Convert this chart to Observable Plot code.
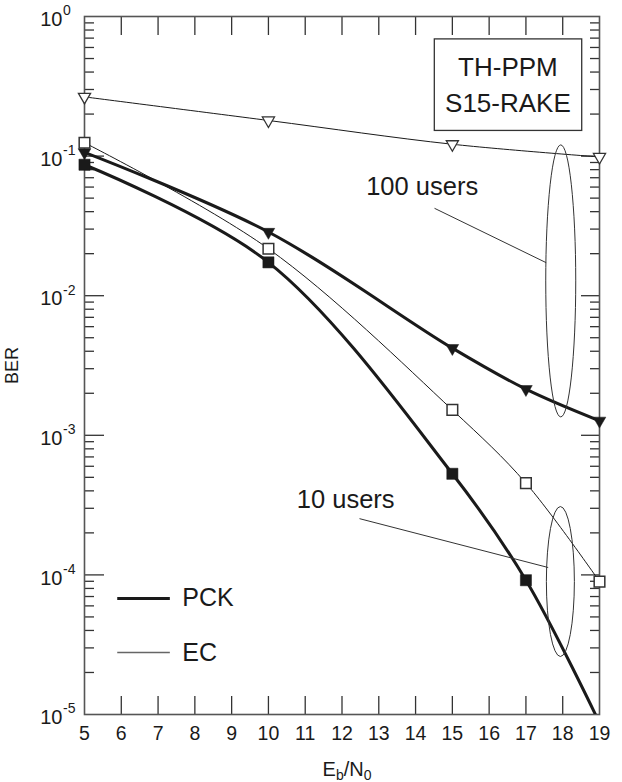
<!DOCTYPE html>
<html><head><meta charset="utf-8">
<script src="https://cdn.jsdelivr.net/npm/d3@7"></script>
<script src="https://cdn.jsdelivr.net/npm/@observablehq/plot@0.6"></script>
<style>body{margin:0;background:#fff}</style>
</head><body><div id="chart"></div>
<script>
// ---- data (Eb/N0 in dB, BER) ----
const snrEC100 = [5, 10, 15, 19];
const berEC100 = [0.2656, 0.180, 0.1216, 0.0986];
const snrPCK100 = [5, 10, 15, 17, 19];
const berPCK100 = [0.1064, 0.0286, 0.00421, 0.00214, 0.00127];
const snrEC10 = [5, 10, 15, 17, 19];
const berEC10 = [0.1247, 0.0217, 0.00152, 0.000454, 0.0000896];
const snrPCK10 = [5, 10, 15, 17];
const berPCK10 = [0.0867, 0.01733, 0.00053, 0.0000916];
// PCK 10-user curve continues (unmarked) past the bottom of the axis
const snrPCK10Tail = [19];
const berPCK10Tail = [0.0000087];

const xTickLabels = [5, 6, 7, 8, 9, 10, 11, 12, 13, 14, 15, 16, 17, 18, 19];
const yDecades = [1, 0.1, 0.01, 0.001, 0.0001, 0.00001];
const yExponents = ["0", "-1", "-2", "-3", "-4", "-5"];
const boxLines = ["TH-PPM", "S15-RAKE"];
const legendNames = ["PCK", "EC"];
const groupNames = ["100 users", "10 users"];

const rows = (xs, ys) => xs.map((x, i) => ({x, y: ys[i]}));
const xInner = xTickLabels.slice(1, -1);
const yInner = yDecades.slice(1, -1);
const yMinor = [];
for (const d of yDecades.slice(1)) for (let m = 2; m <= 9; m++) yMinor.push(m * d);

const W = 622, H = 782, mL = 84, mR = 23, mT = 16, mB = 68;
const plotW = W - mL - mR, plotH = H - mT - mB;
const ink = "#1a1a1a", axisC = "#555", tickC = "#333";

const triangleDown = {
  draw(ctx, size) {
    const y = -Math.sqrt(size / (Math.sqrt(3) * 3));
    ctx.moveTo(0, -2 * y);
    ctx.lineTo(Math.sqrt(3) * y, y);
    ctx.lineTo(-Math.sqrt(3) * y, y);
    ctx.closePath();
  }
};

const ellipseSpecs = [
  {x: 17.96, y: 10 ** -1.8976, rx: 15, ry: 136},
  {x: 17.95, y: 10 ** -4.051, rx: 14, ry: 75}
];

const chart = Plot.plot({
  width: W, height: H,
  marginLeft: mL, marginRight: mR, marginTop: mT, marginBottom: mB,
  style: {fontFamily: "'Liberation Sans', Arial, sans-serif", background: "#fff", color: ink, overflow: "visible"},
  x: {domain: [5, 19], axis: null},
  y: {type: "log", domain: [1e-5, 1], axis: null},
  marks: [
    // ticks (inward)
    Plot.ruleX(xInner, {x: d => d, insetTop: plotH - 18, stroke: tickC, strokeWidth: 1.3}),
    Plot.ruleX(xInner, {x: d => d, insetBottom: plotH - 19, stroke: tickC, strokeWidth: 1.3}),
    Plot.ruleY(yInner, {y: d => d, insetRight: plotW - 20, stroke: tickC, strokeWidth: 1.3}),
    Plot.ruleY(yMinor, {y: d => d, insetRight: plotW - 10, stroke: tickC, strokeWidth: 1.3}),
    Plot.ruleY(yInner, {y: d => d, insetLeft: plotW - 18, stroke: tickC, strokeWidth: 1.3}),
    Plot.ruleY(yMinor, {y: d => d, insetLeft: plotW - 9, stroke: tickC, strokeWidth: 1.3}),
    Plot.frame({stroke: axisC, strokeWidth: 1.6}),
    // tick labels
    Plot.text(xTickLabels, {x: d => d, y: () => 1e-5, text: d => String(d), dy: 19.6, fontSize: 19.5, fill: ink}),
    Plot.text(yDecades, {x: () => 5, y: d => d, text: () => "10", textAnchor: "end", dx: -22, dy: 3.3, fontSize: 20, fill: ink}),
    Plot.text(yDecades, {x: () => 5, y: d => d, text: (d, i) => yExponents[i], textAnchor: "start", dx: -21.5, dy: -5.5, fontSize: 14, fill: ink}),
    Plot.text(["BER"], {x: () => 3.04, y: () => 10 ** -2.5, text: d => d, rotate: -90, fontSize: 18, fill: ink}),
    (index, scales) => {
      const t = d3.create("svg:text")
        .attr("x", scales.x(12.15)).attr("y", 776)
        .attr("text-anchor", "middle").attr("font-size", 20).attr("fill", ink);
      t.append("tspan").text("E");
      t.append("tspan").attr("font-size", 14).attr("dy", 4).text("b");
      t.append("tspan").attr("dy", -4).text("/N");
      t.append("tspan").attr("font-size", 14).attr("dy", 4).text("0");
      return t.node();
    },
    // curves
    Plot.line(rows(snrEC100, berEC100), {x: "x", y: "y", curve: "catmull-rom", stroke: ink, strokeWidth: 1}),
    Plot.line(rows(snrEC10, berEC10), {x: "x", y: "y", curve: "catmull-rom", stroke: ink, strokeWidth: 1}),
    Plot.line(rows(snrPCK100, berPCK100), {x: "x", y: "y", curve: "catmull-rom", stroke: ink, strokeWidth: 3}),
    Plot.line(rows([...snrPCK10, ...snrPCK10Tail], [...berPCK10, ...berPCK10Tail]), {x: "x", y: "y", curve: "catmull-rom", stroke: ink, strokeWidth: 3, clip: true}),
    // markers
    Plot.dot(rows(snrEC100, berEC100), {x: "x", y: "y", symbol: triangleDown, r: 4.5, fill: "#fff", stroke: tickC, strokeWidth: 1.3}),
    Plot.dot(rows(snrPCK100, berPCK100), {x: "x", y: "y", symbol: triangleDown, r: 4.7, fill: ink, stroke: ink, strokeWidth: 0.5}),
    Plot.dot(rows(snrEC10, berEC10), {x: "x", y: "y", symbol: "square", r: 6, fill: "#fff", stroke: tickC, strokeWidth: 1.5}),
    Plot.dot(rows(snrPCK10, berPCK10), {x: "x", y: "y", symbol: "square", r: 6.3, fill: ink, stroke: ink, strokeWidth: 0.5}),
    // annotation box
    Plot.rect([0], {x1: () => 14.523, x2: () => 18.53, y1: () => 10 ** -0.164, y2: () => 10 ** -0.8197, fill: "#fff", stroke: tickC, strokeWidth: 1.3}),
    Plot.text(boxLines, {x: () => 16.51, y: (d, i) => [10 ** -0.370, 10 ** -0.626][i], text: d => d, fontSize: 26, fill: ink}),
    // group labels + leaders
    Plot.text(groupNames, {x: (d, i) => [14.18, 12.10][i], y: (d, i) => [10 ** -1.2235, 10 ** -3.459][i], text: d => d, fontSize: 25.5, fill: ink}),
    Plot.link(groupNames, {x1: (d, i) => [14.515, 12.476][i], y1: (d, i) => [10 ** -1.374, 10 ** -3.597][i], x2: (d, i) => [17.551, 17.605][i], y2: (d, i) => [10 ** -1.7635, 10 ** -3.947][i], stroke: tickC, strokeWidth: 1}),
    (index, scales) => {
      const g = d3.create("svg:g");
      for (const e of ellipseSpecs) {
        g.append("ellipse").attr("cx", scales.x(e.x)).attr("cy", scales.y(e.y))
          .attr("rx", e.rx).attr("ry", e.ry).attr("fill", "none").attr("stroke", tickC).attr("stroke-width", 1);
      }
      return g.node();
    },
    // legend
    Plot.link(legendNames, {x1: () => 5.89, x2: () => 7.32, y1: (d, i) => [10 ** -4.169, 10 ** -4.556][i], y2: (d, i) => [10 ** -4.169, 10 ** -4.556][i], stroke: (d, i) => [ink, "#666"][i], strokeWidth: (d, i) => [3, 1.4][i]}),
    Plot.text(legendNames, {x: () => 7.66, y: (d, i) => [10 ** -4.169, 10 ** -4.556][i], text: d => d, textAnchor: "start", fontSize: 25, fill: ink})
  ]
});
document.getElementById("chart").appendChild(chart);
</script>
</body></html>
